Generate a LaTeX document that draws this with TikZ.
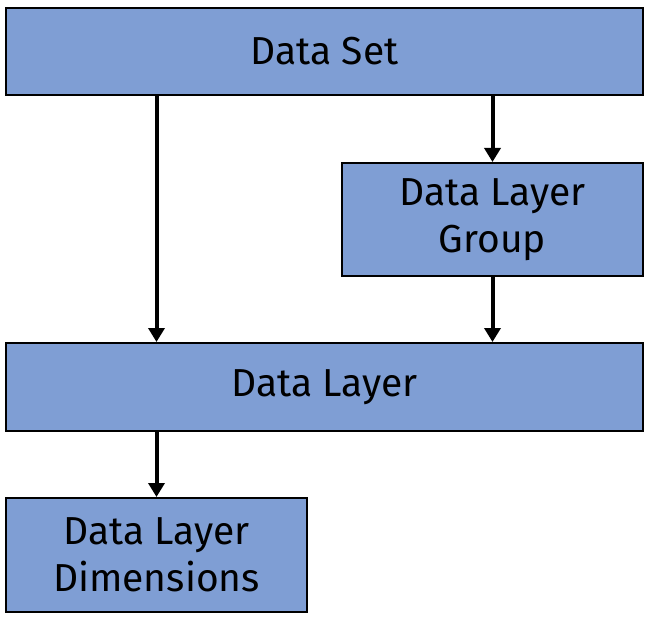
\documentclass[tikz,border=0pt]{standalone}
\usepackage{fontspec}
\setmainfont{Fira Sans}
\usetikzlibrary{arrows.meta}
\definecolor{boxblue}{HTML}{7F9ED4}
\begin{document}
\begin{tikzpicture}[x=1pt,y=-1pt,
  box/.style={draw=black,line width=2pt,fill=boxblue,inner sep=0pt,align=center,font=\fontsize{39}{47}\selectfont},
  arr/.style={line width=4pt,-{Triangle[length=14pt,width=16pt]}}]
\useasboundingbox (0,0) rectangle (650,620);
\node[box,minimum width=637pt,minimum height=87pt] (ds) at (324.5,51.5) {Data Set};
\node[box,minimum width=301pt,minimum height=113pt] (grp) at (492.5,219.5) {Data Layer\\Group};
\node[box,minimum width=637pt,minimum height=88pt] (dl) at (324.5,387) {Data Layer};
\node[box,minimum width=301pt,minimum height=114pt] (dims) at (156.5,555) {Data Layer\\Dimensions};
\draw[arr] (ds.south -| dims) -- (dl.north -| dims);
\draw[arr] (ds.south -| grp) -- (grp.north);
\draw[arr] (grp.south) -- (dl.north -| grp);
\draw[arr] (dl.south -| dims) -- (dims.north);
\end{tikzpicture}
\end{document}
